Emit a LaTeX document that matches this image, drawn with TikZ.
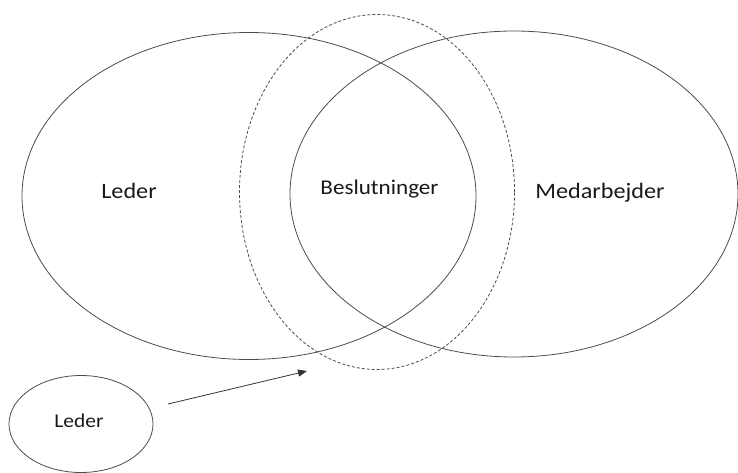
\documentclass[tikz,border=0pt]{standalone}
\usepackage{fontspec}
\setmainfont{Carlito}[FakeStretch=1.1]
\usetikzlibrary{shapes.geometric,arrows.meta}
\begin{document}
\begin{tikzpicture}[x=1pt,y=-1pt,
  ring/.style={draw=black!70,line width=0.8pt,ellipse,inner sep=0pt},
  dashring/.style={ring,dashed,dash pattern=on 3pt off 2pt},
  lbl/.style={anchor=base,inner sep=0pt,font=\fontsize{22}{26}\selectfont,text=black!90},
  arrowline/.style={draw=black!80,line width=0.8pt,-{Triangle[length=9pt,width=7pt]}}]
  \useasboundingbox (0,0) rectangle (738,473);
  % three overlapping circles of the decision model
  \node[ring,minimum width=454pt,minimum height=327pt] (leader) at (249,196) {};
  \node[ring,minimum width=448pt,minimum height=326pt] (staff) at (514,194) {};
  \node[dashring,minimum width=275pt,minimum height=355pt] (decide) at (377,192) {};
  % the lone leader
  \node[ring,minimum width=144pt,minimum height=97pt] (lone) at (81,424) {};
  % labels
  \node[lbl] (tleader) at (129,198) {Leder};
  \node[lbl] (tstaff) at (600,198) {Medarbejder};
  \node[lbl,font=\fontsize{21}{24}\selectfont] (tdecide) at (379.5,194) {Beslutninger};
  \node[lbl,font=\fontsize{19.5}{22}\selectfont] (tlone) at (79,427) {Leder};
  % arrow towards the shared decisions
  \coordinate (astart) at (168,404);
  \coordinate (aend) at (307,371);
  \draw[arrowline] (astart) -- (aend);
\end{tikzpicture}
\end{document}
